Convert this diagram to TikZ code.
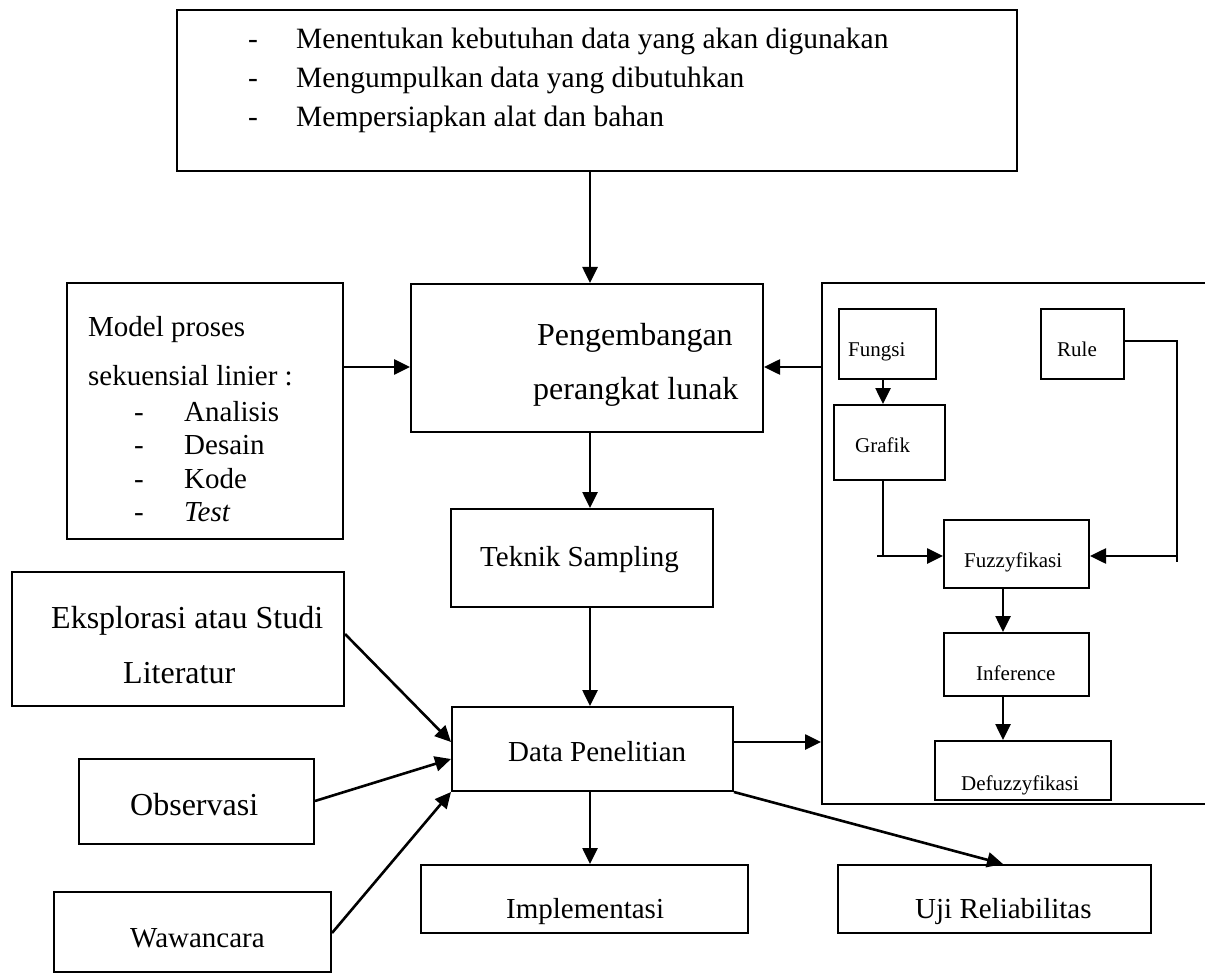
\documentclass[tikz,border=0pt]{standalone}
\usepackage{fontspec}
\setmainfont{Liberation Serif}
\usetikzlibrary{arrows.meta,fit}
\begin{document}
\begin{tikzpicture}[x=1pt,y=-1pt,
  box/.style={draw, line width=2pt, inner sep=0pt},
  txt/.style={anchor=base west, inner sep=0pt},
  ln/.style={line width=2pt},
  arr/.style={line width=2.6pt, -{Triangle[length=16pt,width=15pt]}},
  fTop/.style={font=\fontsize{29.5pt}{35pt}\selectfont},
  fPeng/.style={font=\fontsize{32pt}{38pt}\selectfont},
  fMid/.style={font=\fontsize{29pt}{35pt}\selectfont},
  fBig/.style={font=\fontsize{32pt}{38pt}\selectfont},
  fSm/.style={font=\fontsize{21pt}{25pt}\selectfont}]
\useasboundingbox (0,0) rectangle (1205,976);
% boxes
\node[box, fit={(177,10) (1017,171)}] (top) {};
\node[box, fit={(67,283) (343,539)}] (model) {};
\node[box, fit={(411,284) (763,432)}] (peng) {};
\node[box, fit={(822,283) (1230,804)}] (panel) {};
\node[box, fit={(451,509) (713,607)}] (teknik) {};
\node[box, fit={(12,572) (344,706)}] (eks) {};
\node[box, fit={(452,707) (733,791)}] (data) {};
\node[box, fit={(79,759) (314,844)}] (obs) {};
\node[box, fit={(54,892) (331,972)}] (waw) {};
\node[box, fit={(421,865) (748,933)}] (impl) {};
\node[box, fit={(838,865) (1151,933)}] (uji) {};
\node[box, fit={(839,309) (936,379)}] (fungsi) {};
\node[box, fit={(1041,309) (1124,379)}] (rule) {};
\node[box, fit={(834,405) (945,480)}] (grafik) {};
\node[box, fit={(944,520) (1089,588)}] (fuzzy) {};
\node[box, fit={(944,633) (1089,696)}] (infer) {};
\node[box, fit={(935,741) (1111,800)}] (defuzzy) {};
% texts
\node[txt, fTop] (top-d1) at (248,49) {-};
\node[txt, fTop] (top-t1) at (296,49) {Menentukan kebutuhan data yang akan digunakan};
\node[txt, fTop] (top-d2) at (248,88) {-};
\node[txt, fTop] (top-t2) at (296,88) {Mengumpulkan data yang dibutuhkan};
\node[txt, fTop] (top-d3) at (248,127) {-};
\node[txt, fTop] (top-t3) at (296,127) {Mempersiapkan alat dan bahan};
\node[txt, fPeng] (peng-t1) at (537,345) {Pengembangan};
\node[txt, fPeng] (peng-t2) at (533,399) {perangkat lunak};
\node[txt, fMid] (model-t1) at (88,337) {Model proses};
\node[txt, fMid] (model-t2) at (88,385) {sekuensial linier :};
\node[txt, fMid] (model-d1) at (134,421) {-};
\node[txt, fMid] (model-i1) at (184,421) {Analisis};
\node[txt, fMid] (model-d2) at (134,454) {-};
\node[txt, fMid] (model-i2) at (184,454) {Desain};
\node[txt, fMid] (model-d3) at (134,488) {-};
\node[txt, fMid] (model-i3) at (184,488) {Kode};
\node[txt, fMid] (model-d4) at (134,521) {-};
\node[txt, fMid] (model-i4) at (184,521) {\textit{Test}};
\node[txt, fMid] (teknik-t) at (480,566) {Teknik Sampling};
\node[txt, fBig] (eks-t1) at (51,628) {Eksplorasi atau Studi};
\node[txt, fBig] (eks-t2) at (123,683) {Literatur};
\node[txt, fMid] (data-t) at (508,761) {Data Penelitian};
\node[txt, fBig] (obs-t) at (130,815) {Observasi};
\node[txt, fMid] (waw-t) at (130,947) {Wawancara};
\node[txt, fMid] (impl-t) at (506,918) {Implementasi};
\node[txt, fMid] (uji-t) at (915,918) {Uji Reliabilitas};
\node[txt, fSm] (fungsi-t) at (848,356) {Fungsi};
\node[txt, fSm] (rule-t) at (1057,356) {Rule};
\node[txt, fSm] (grafik-t) at (855,452) {Grafik};
\node[txt, fSm] (fuzzy-t) at (964,567) {Fuzzyfikasi};
\node[txt, fSm] (infer-t) at (976,680) {Inference};
\node[txt, fSm] (defuzzy-t) at (961,790) {Defuzzyfikasi};
% helper coordinates
\coordinate (gk) at (883,556);
\coordinate (gk0) at (877,556);
\coordinate (rk1) at (1177,341);
\coordinate (rk2) at (1177,562);
\coordinate (rk3) at (1177,556);
% connectors
\draw[arr] (top.south -| 590,0) -- (peng.north -| 590,0);
\draw[arr] (model.east |- 0,367) -- (peng.west |- 0,367);
\draw[arr] (panel.west |- 0,367) -- (peng.east |- 0,367);
\draw[arr] (peng.south -| 590,0) -- (teknik.north -| 590,0);
\draw[arr] (teknik.south -| 590,0) -- (data.north -| 590,0);
\draw[arr] (data.south -| 590,0) -- (impl.north -| 590,0);
\draw[arr] (data.south east) -- (uji.north -| 1003,0);
\draw[arr] (data.east |- 0,742) -- (panel.west |- 0,742);
\draw[arr] (eks.east |- 0,634) -- (data.west |- 0,742);
\draw[arr] (obs.east |- 0,801) -- (data.west |- 0,759);
\draw[arr] (waw.east |- 0,933) -- (data.south west);
\draw[arr] (fungsi.south -| 883,0) -- (grafik.north -| 883,0);
\draw[ln] (grafik.south -| gk) -- (gk);
\draw[arr] (gk0) -- (fuzzy.west |- gk);
\draw[ln] (rule.east |- rk1) -- (rk1) -- (rk2);
\draw[arr] (rk3) -- (fuzzy.east |- rk3);
\draw[arr] (fuzzy.south -| 1003,0) -- (infer.north -| 1003,0);
\draw[arr] (infer.south -| 1003,0) -- (defuzzy.north -| 1003,0);
\end{tikzpicture}
\end{document}
